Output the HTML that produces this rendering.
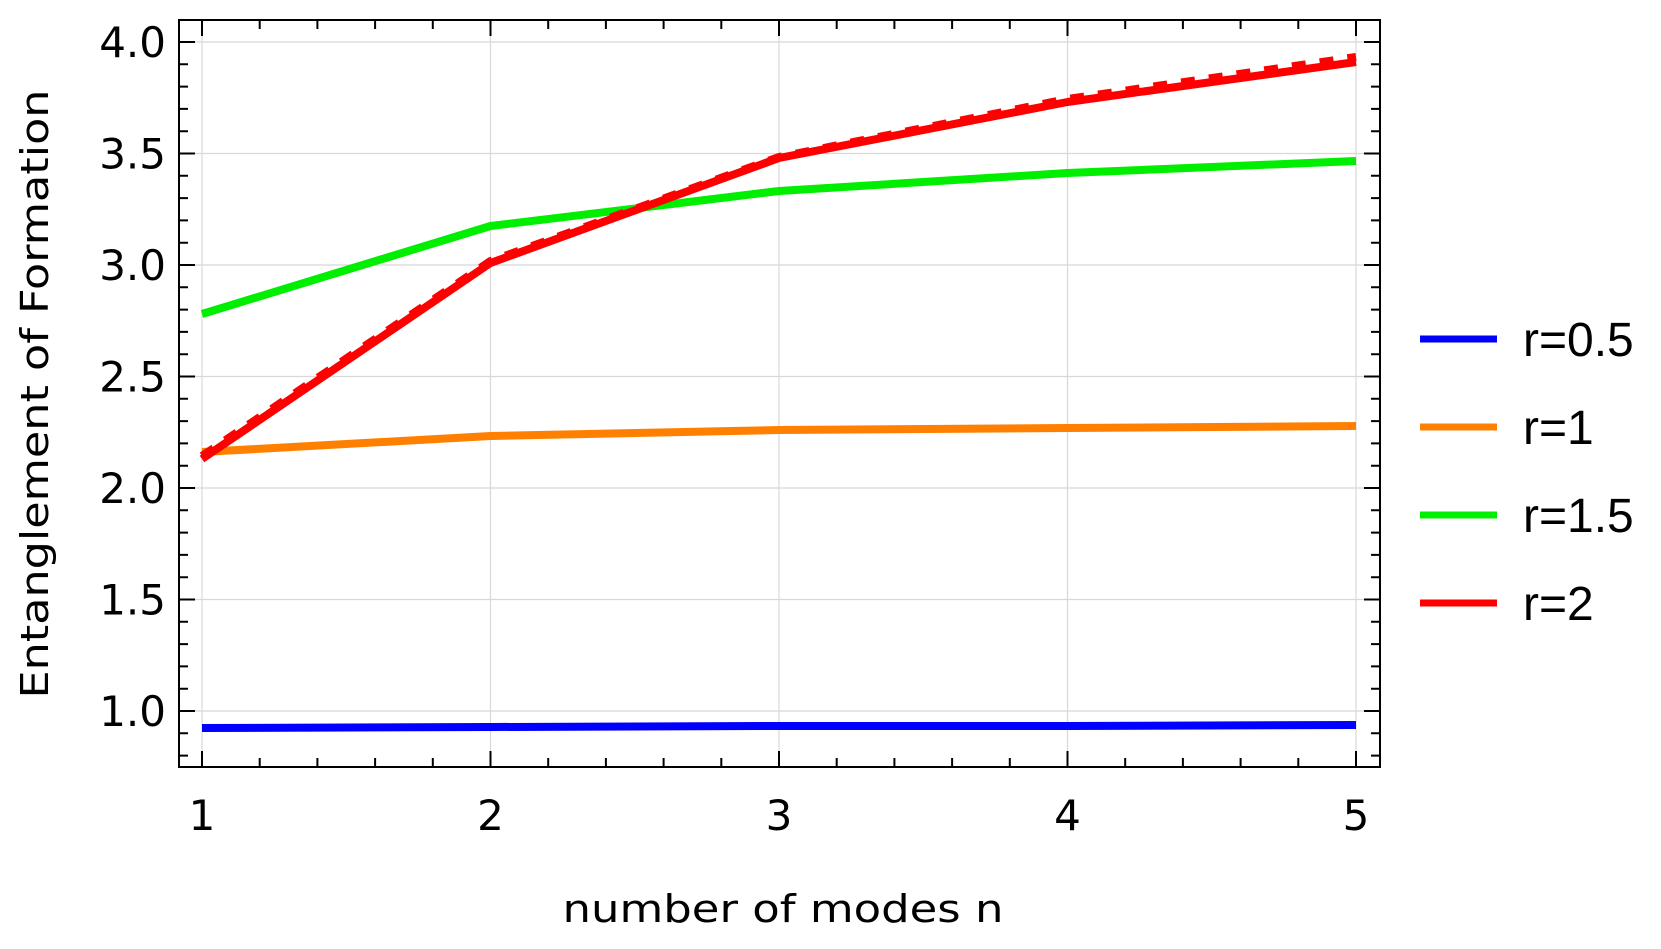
<!DOCTYPE html>
<html><head><style>html,body{margin:0;padding:0;background:#fff}</style></head>
<body>
<svg width="1661" height="944" viewBox="0 0 1661 944" xmlns="http://www.w3.org/2000/svg" font-family="DejaVu Sans, sans-serif">
<rect width="1661" height="944" fill="#fff"/>
<g stroke="#d8d8d8" stroke-width="1.2">
<line x1="202" y1="20" x2="202" y2="767"/><line x1="490.5" y1="20" x2="490.5" y2="767"/><line x1="779" y1="20" x2="779" y2="767"/><line x1="1067.5" y1="20" x2="1067.5" y2="767"/><line x1="1356" y1="20" x2="1356" y2="767"/>
<line x1="179" y1="42" x2="1380" y2="42"/><line x1="179" y1="153.5" x2="1380" y2="153.5"/><line x1="179" y1="265" x2="1380" y2="265"/><line x1="179" y1="376.5" x2="1380" y2="376.5"/><line x1="179" y1="488" x2="1380" y2="488"/><line x1="179" y1="599.5" x2="1380" y2="599.5"/><line x1="179" y1="711" x2="1380" y2="711"/>
</g>
<rect x="179" y="20" width="1201" height="747" fill="none" stroke="#000" stroke-width="2"/>
<g fill="none" stroke-width="8" stroke-linejoin="round">
<polyline stroke="#0000ff" points="202,728 490.5,727 779,726 1067.5,726 1356,725"/>
<polyline stroke="#ff8000" points="202,452 490.5,436 779,430 1067.5,428 1356,426"/>
<polyline stroke="#00ee00" points="202,314 490.5,226 779,191 1067.5,173 1356,161"/>
<polyline stroke="#ff0000" points="202,459 490.5,263 779,158 1067.5,102 1356,62"/>
<polyline stroke="#ff0000" stroke-dasharray="14,14" points="202,456 490.5,261 779,157 1067.5,99 1356,57"/>
</g>
<g font-size="42" text-anchor="middle" fill="#000">
<text x="202" y="830">1</text><text x="490.5" y="830">2</text><text x="779" y="830">3</text><text x="1067.5" y="830">4</text><text x="1356" y="830">5</text>
</g>
<g font-size="42" text-anchor="end" fill="#000">
<text x="166" y="57">4.0</text><text x="166" y="168.5">3.5</text><text x="166" y="280">3.0</text><text x="166" y="391.5">2.5</text><text x="166" y="503">2.0</text><text x="166" y="614.5">1.5</text><text x="166" y="726">1.0</text>
</g>
<text x="783" y="922" font-size="38" text-anchor="middle" textLength="441" lengthAdjust="spacingAndGlyphs">number of modes n</text>
<text transform="translate(48,394) rotate(-90)" font-size="38" text-anchor="middle" textLength="609" lengthAdjust="spacingAndGlyphs">Entanglement of Formation</text>
<g stroke-width="7">
<line x1="1420" y1="339" x2="1497" y2="339" stroke="#0000ff"/>
<line x1="1420" y1="427" x2="1497" y2="427" stroke="#ff8000"/>
<line x1="1420" y1="515" x2="1497" y2="515" stroke="#00ee00"/>
<line x1="1420" y1="603" x2="1497" y2="603" stroke="#ff0000"/>
</g>
<g font-family="Liberation Sans, sans-serif" font-size="48" fill="#000">
<text x="1523" y="356">r=0.5</text><text x="1523" y="444">r=1</text><text x="1523" y="532">r=1.5</text><text x="1523" y="620">r=2</text>
</g>
<g stroke="#000" stroke-width="2">
<path d="M202,767v-16M202,20v16M490.5,767v-16M490.5,20v16M779,767v-16M779,20v16M1067.5,767v-16M1067.5,20v16M1356,767v-16M1356,20v16
M259.7,767v-9M317.4,767v-9M375.1,767v-9M432.8,767v-9M548.2,767v-9M605.9,767v-9M663.6,767v-9M721.3,767v-9M836.7,767v-9M894.4,767v-9M952.1,767v-9M1009.8,767v-9M1125.2,767v-9M1182.9,767v-9M1240.6,767v-9M1298.3,767v-9
M259.7,20v9M317.4,20v9M375.1,20v9M432.8,20v9M548.2,20v9M605.9,20v9M663.6,20v9M721.3,20v9M836.7,20v9M894.4,20v9M952.1,20v9M1009.8,20v9M1125.2,20v9M1182.9,20v9M1240.6,20v9M1298.3,20v9
M179,42h16M1380,42h-16M179,153.5h16M1380,153.5h-16M179,265h16M1380,265h-16M179,376.5h16M1380,376.5h-16M179,488h16M1380,488h-16M179,599.5h16M1380,599.5h-16M179,711h16M1380,711h-16
M179,64.3h9M179,86.6h9M179,108.9h9M179,131.2h9M179,175.8h9M179,198.1h9M179,220.4h9M179,242.7h9M179,287.3h9M179,309.6h9M179,331.9h9M179,354.2h9M179,398.8h9M179,421.1h9M179,443.4h9M179,465.7h9M179,510.3h9M179,532.6h9M179,554.9h9M179,577.2h9M179,621.8h9M179,644.1h9M179,666.4h9M179,688.7h9M179,733.3h9M179,755.6h9
M1380,64.3h-9M1380,86.6h-9M1380,108.9h-9M1380,131.2h-9M1380,175.8h-9M1380,198.1h-9M1380,220.4h-9M1380,242.7h-9M1380,287.3h-9M1380,309.6h-9M1380,331.9h-9M1380,354.2h-9M1380,398.8h-9M1380,421.1h-9M1380,443.4h-9M1380,465.7h-9M1380,510.3h-9M1380,532.6h-9M1380,554.9h-9M1380,577.2h-9M1380,621.8h-9M1380,644.1h-9M1380,666.4h-9M1380,688.7h-9M1380,733.3h-9M1380,755.6h-9"/>
</g>
</svg>
</body></html>
